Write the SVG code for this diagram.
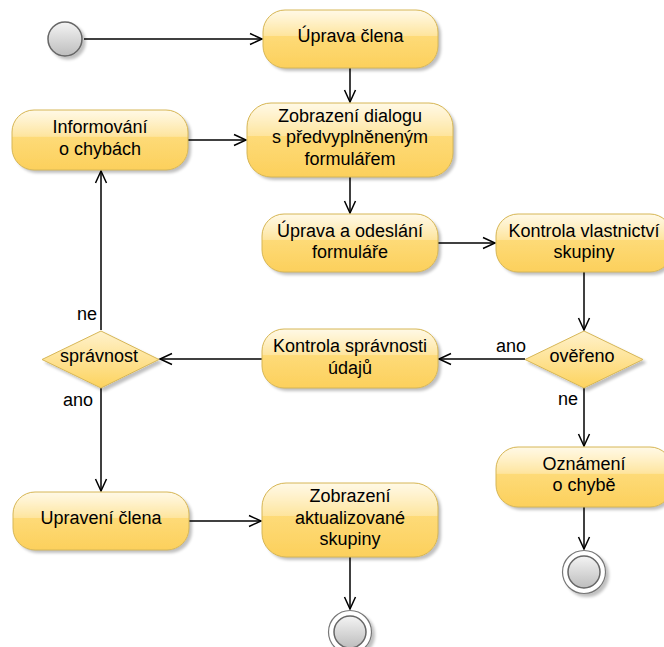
<svg xmlns="http://www.w3.org/2000/svg" width="664" height="647" viewBox="0 0 664 647">
  <style>
    text { font-family: "Liberation Sans", Arial, Helvetica, sans-serif; font-size: 18px; fill: #000; }
    .lbl { text-anchor: middle; }
    .edge-lbl { text-anchor: end; }
    .act-base { fill: url(#actFill); filter: url(#shadow); }
    .act-glass { fill: url(#glass); stroke: #d6b656; stroke-width: 1; }
    .dec { fill: url(#decFill); stroke: #d6b656; stroke-width: 1; filter: url(#shadow); }
    .edge { fill: none; stroke: #000; stroke-width: 1.5; marker-end: url(#open); }
  </style>
  <defs>
    <linearGradient id="actFill" x1="0" y1="0" x2="0" y2="1">
      <stop offset="0" stop-color="#ffe38e"/>
      <stop offset="1" stop-color="#fcd05c"/>
    </linearGradient>
    <linearGradient id="glass" x1="0" y1="0" x2="0" y2="1">
      <stop offset="0" stop-color="#fff" stop-opacity="0.78"/>
      <stop offset="0.44" stop-color="#fff" stop-opacity="0.28"/>
      <stop offset="0.45" stop-color="#fff" stop-opacity="0"/>
      <stop offset="1" stop-color="#fff" stop-opacity="0"/>
    </linearGradient>
    <linearGradient id="decFill" x1="0" y1="0" x2="0" y2="1">
      <stop offset="0" stop-color="#fff2cc"/>
      <stop offset="1" stop-color="#fdd35e"/>
    </linearGradient>
    <linearGradient id="grayFill" x1="0" y1="0" x2="0" y2="1">
      <stop offset="0" stop-color="#f4f4f4"/>
      <stop offset="1" stop-color="#bdbdbd"/>
    </linearGradient>
    <filter id="shadow" x="-15%" y="-15%" width="140%" height="150%">
      <feGaussianBlur in="SourceAlpha" stdDeviation="1.5"/>
      <feOffset dx="3" dy="3" result="off"/>
      <feComponentTransfer><feFuncA type="linear" slope="0.25"/></feComponentTransfer>
      <feMerge><feMergeNode/><feMergeNode in="SourceGraphic"/></feMerge>
    </filter>
    <marker id="open" markerUnits="userSpaceOnUse" markerWidth="16" markerHeight="16" viewBox="-14 -8 16 16" refX="0" refY="0" orient="auto">
      <path d="M-12,-5.5 L0,0 L-12,5.5" fill="none" stroke="#000" stroke-width="1.5"/>
    </marker>
  </defs>

  <!-- connectors -->
  <g id="connectors">
    <path class="edge" d="M84,39 L262,39"/>
    <path class="edge" d="M350,68 L350,102"/>
    <path class="edge" d="M188,140 L246,140"/>
    <path class="edge" d="M350,177 L350,213"/>
    <path class="edge" d="M438,243 L495,243"/>
    <path class="edge" d="M584,272 L584,330"/>
    <path class="edge" d="M525,359 L439,359"/>
    <path class="edge" d="M262,359 L160,359"/>
    <path class="edge" d="M101,330 L101,171"/>
    <path class="edge" d="M101,388 L101,491"/>
    <path class="edge" d="M189,521 L261,521"/>
    <path class="edge" d="M350,557 L350,609"/>
    <path class="edge" d="M584,388 L584,446"/>
    <path class="edge" d="M584,507 L584,549"/>
    <text class="edge-lbl" x="97" y="320">ne</text>
    <text class="edge-lbl" x="93" y="406">ano</text>
    <text class="edge-lbl" x="526" y="352">ano</text>
    <text class="edge-lbl" x="578" y="405">ne</text>
  </g>

  <!-- initial state -->
  <g id="start">
    <circle cx="65" cy="39" r="17" fill="url(#grayFill)" stroke="#666" stroke-width="1.5" filter="url(#shadow)"/>
  </g>

  <g id="uprava-clena">
    <rect class="act-base" x="263" y="10" width="175" height="58" rx="22"/>
    <rect class="act-glass" x="263" y="10" width="175" height="58" rx="22"/>
    <text class="lbl" x="350.5" y="42">Úprava člena</text>
  </g>

  <g id="zobrazeni-dialogu">
    <rect class="act-base" x="247" y="103" width="206" height="74" rx="24"/>
    <rect class="act-glass" x="247" y="103" width="206" height="74" rx="24"/>
    <text class="lbl" x="350" y="121.5">Zobrazení dialogu</text>
    <text class="lbl" x="350" y="143">s předvyplněneným</text>
    <text class="lbl" x="350" y="164.6">formulářem</text>
  </g>

  <g id="informovani">
    <rect class="act-base" x="12" y="110" width="176" height="60" rx="22"/>
    <rect class="act-glass" x="12" y="110" width="176" height="60" rx="22"/>
    <text class="lbl" x="100" y="133">Informování</text>
    <text class="lbl" x="100" y="154.6">o chybách</text>
  </g>

  <g id="uprava-odeslani">
    <rect class="act-base" x="262" y="214" width="176" height="58" rx="22"/>
    <rect class="act-glass" x="262" y="214" width="176" height="58" rx="22"/>
    <text class="lbl" x="350" y="236.5">Úprava a odeslání</text>
    <text class="lbl" x="350" y="258">formuláře</text>
  </g>

  <g id="kontrola-vlastnictvi">
    <rect class="act-base" x="496" y="214" width="176" height="58" rx="22"/>
    <rect class="act-glass" x="496" y="214" width="176" height="58" rx="22"/>
    <text class="lbl" x="584" y="236.5">Kontrola vlastnictví</text>
    <text class="lbl" x="584" y="258">skupiny</text>
  </g>

  <g id="overeno">
    <polygon class="dec" points="584,331 643,359.5 584,388 525,359.5"/>
    <text class="lbl" x="582" y="362">ověřeno</text>
  </g>

  <g id="kontrola-spravnosti">
    <rect class="act-base" x="262" y="329" width="176" height="59" rx="22"/>
    <rect class="act-glass" x="262" y="329" width="176" height="59" rx="22"/>
    <text class="lbl" x="350" y="352">Kontrola správnosti</text>
    <text class="lbl" x="350" y="373.5">údajů</text>
  </g>

  <g id="spravnost">
    <polygon class="dec" points="101,331 159,359.5 101,388 42,359.5"/>
    <text class="lbl" x="99" y="362">správnost</text>
  </g>

  <g id="oznameni">
    <rect class="act-base" x="496" y="447" width="176" height="60" rx="22"/>
    <rect class="act-glass" x="496" y="447" width="176" height="60" rx="22"/>
    <text class="lbl" x="584" y="469.5">Oznámení</text>
    <text class="lbl" x="584" y="491">o chybě</text>
  </g>

  <g id="upraveni-clena">
    <rect class="act-base" x="13" y="492" width="176" height="58" rx="22"/>
    <rect class="act-glass" x="13" y="492" width="176" height="58" rx="22"/>
    <text class="lbl" x="101" y="524">Upravení člena</text>
  </g>

  <g id="zobrazeni-skupiny">
    <rect class="act-base" x="262" y="483" width="176" height="74" rx="24"/>
    <rect class="act-glass" x="262" y="483" width="176" height="74" rx="24"/>
    <text class="lbl" x="350" y="502">Zobrazení</text>
    <text class="lbl" x="350" y="523.5">aktualizované</text>
    <text class="lbl" x="350" y="545">skupiny</text>
  </g>

  <!-- final states -->
  <g id="end-1">
    <circle cx="350" cy="632" r="21.5" fill="#fff" stroke="#777" stroke-width="1.2" filter="url(#shadow)"/>
    <circle cx="350" cy="632" r="16" fill="url(#grayFill)" stroke="#666" stroke-width="1.5"/>
  </g>
  <g id="end-2">
    <circle cx="584" cy="572" r="21.5" fill="#fff" stroke="#777" stroke-width="1.2" filter="url(#shadow)"/>
    <circle cx="584" cy="572" r="16" fill="url(#grayFill)" stroke="#666" stroke-width="1.5"/>
  </g>
</svg>
